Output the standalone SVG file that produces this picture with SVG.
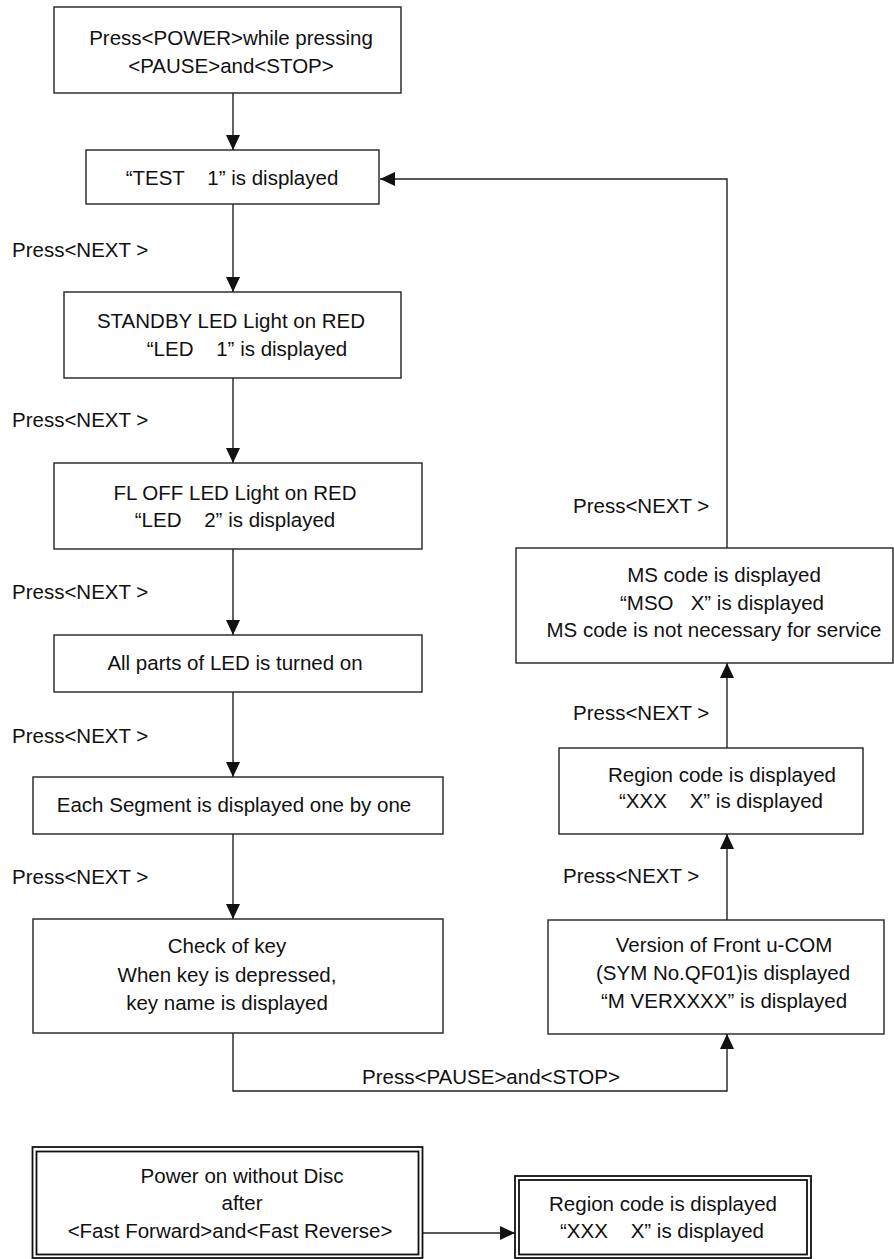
<svg xmlns="http://www.w3.org/2000/svg" width="894" height="1259" viewBox="0 0 894 1259">
<defs>
<style>
.box{fill:#fff;stroke:#222;stroke-width:1.4}
.dbl{fill:none;stroke:#111;stroke-width:1.8}
.con{fill:none;stroke:#222;stroke-width:1.4}
text{font-family:"Liberation Sans",Arial,Helvetica,sans-serif;font-size:20.5px;fill:#111}
.c{text-anchor:middle}
</style>
<marker id="ah" markerUnits="userSpaceOnUse" viewBox="0 0 15 14" refX="15" refY="7" markerWidth="15" markerHeight="14" orient="auto">
<path d="M0,0 L15,7 L0,14 z" fill="#111"/>
</marker>
</defs>
<rect width="894" height="1259" fill="#fff"/>

<g id="connectors">
<line class="con" x1="233" y1="93" x2="233" y2="150" marker-end="url(#ah)"/>
<line class="con" x1="233" y1="204" x2="233" y2="292" marker-end="url(#ah)"/>
<line class="con" x1="233" y1="378" x2="233" y2="463" marker-end="url(#ah)"/>
<line class="con" x1="233" y1="549" x2="233" y2="635" marker-end="url(#ah)"/>
<line class="con" x1="233" y1="692" x2="233" y2="777" marker-end="url(#ah)"/>
<line class="con" x1="233" y1="834" x2="233" y2="919" marker-end="url(#ah)"/>
<polyline class="con" points="233,1033 233,1091 727,1091 727,1034" marker-end="url(#ah)"/>
<line class="con" x1="727" y1="920" x2="727" y2="834" marker-end="url(#ah)"/>
<line class="con" x1="727" y1="748" x2="727" y2="663" marker-end="url(#ah)"/>
<polyline class="con" points="727,548 727,179 380,179" marker-end="url(#ah)"/>
<line class="con" x1="423" y1="1233" x2="515" y2="1233" marker-end="url(#ah)"/>
<text x="12" y="257">Press&lt;NEXT &gt;</text>
<text x="12" y="427">Press&lt;NEXT &gt;</text>
<text x="12" y="599">Press&lt;NEXT &gt;</text>
<text x="12" y="743">Press&lt;NEXT &gt;</text>
<text x="12" y="884">Press&lt;NEXT &gt;</text>
<text x="573" y="513">Press&lt;NEXT &gt;</text>
<text x="573" y="720">Press&lt;NEXT &gt;</text>
<text x="563" y="883">Press&lt;NEXT &gt;</text>
<text class="c" x="491" y="1084">Press&lt;PAUSE&gt;and&lt;STOP&gt;</text>
</g>

<g id="n_power">
<rect class="box" x="54" y="7" width="347" height="86"/>
<text class="c" x="231" y="45">Press&lt;POWER&gt;while pressing</text>
<text class="c" x="231" y="73">&lt;PAUSE&gt;and&lt;STOP&gt;</text>
</g>
<g id="n_test1">
<rect class="box" x="86" y="150" width="293" height="54"/>
<text class="c" x="232" y="185" xml:space="preserve">“TEST    1” is displayed</text>
</g>
<g id="n_led1">
<rect class="box" x="64" y="292" width="337" height="86"/>
<text class="c" x="231" y="328">STANDBY LED Light on RED</text>
<text class="c" x="247" y="356" xml:space="preserve">“LED    1” is displayed</text>
</g>
<g id="n_led2">
<rect class="box" x="54" y="463" width="368" height="86"/>
<text class="c" x="235" y="500">FL OFF LED Light on RED</text>
<text class="c" x="235" y="527" xml:space="preserve">“LED    2” is displayed</text>
</g>
<g id="n_allled">
<rect class="box" x="54" y="635" width="368" height="57"/>
<text class="c" x="235" y="670">All parts of LED is turned on</text>
</g>
<g id="n_segment">
<rect class="box" x="33" y="777" width="410" height="57"/>
<text class="c" x="234" y="812">Each Segment is displayed one by one</text>
</g>
<g id="n_key">
<rect class="box" x="33" y="919" width="410" height="114"/>
<text class="c" x="227" y="953">Check of key</text>
<text class="c" x="227" y="982">When key is depressed,</text>
<text class="c" x="227" y="1010">key name is displayed</text>
</g>
<g id="n_version">
<rect class="box" x="548" y="920" width="336" height="114"/>
<text class="c" x="724" y="952">Version of Front u-COM</text>
<text class="c" x="723" y="980">(SYM No.QF01)is displayed</text>
<text class="c" x="724" y="1008">“M VERXXXX” is displayed</text>
</g>
<g id="n_region">
<rect class="box" x="559" y="748" width="304" height="86"/>
<text class="c" x="722" y="782">Region code is displayed</text>
<text class="c" x="721" y="808" xml:space="preserve">“XXX    X” is displayed</text>
</g>
<g id="n_ms">
<rect class="box" x="516" y="548" width="377" height="115"/>
<text class="c" x="724" y="582">MS code is displayed</text>
<text class="c" x="722" y="610" xml:space="preserve">“MSO   X” is displayed</text>
<text class="c" x="714" y="637">MS code is not necessary for service</text>
</g>
<g id="n_poweron">
<rect class="dbl" x="32.5" y="1147" width="390" height="111"/>
<rect class="dbl" x="36.5" y="1151.5" width="382" height="103"/>
<text class="c" x="242" y="1183">Power on without Disc</text>
<text class="c" x="242" y="1210">after</text>
<text class="c" x="230" y="1238">&lt;Fast Forward&gt;and&lt;Fast Reverse&gt;</text>
</g>
<g id="n_region2">
<rect class="dbl" x="515" y="1176" width="296" height="82"/>
<rect class="dbl" x="519" y="1180" width="288" height="74.5"/>
<text class="c" x="663" y="1211">Region code is displayed</text>
<text class="c" x="662" y="1238" xml:space="preserve">“XXX    X” is displayed</text>
</g>
</svg>
